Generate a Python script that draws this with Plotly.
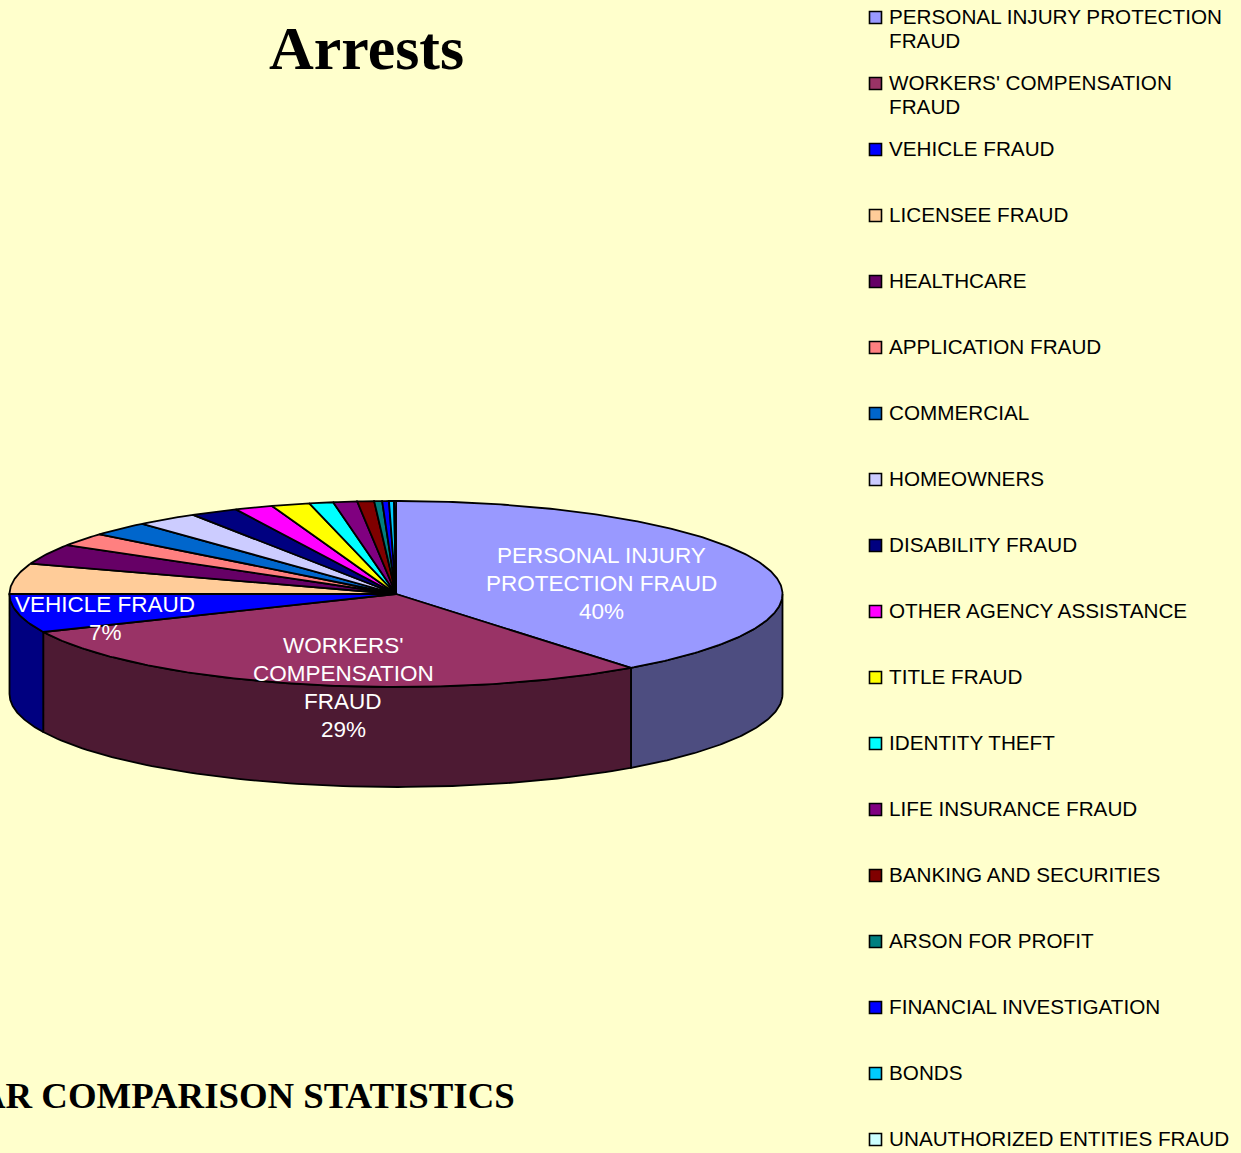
import numpy as np
import plotly.graph_objects as go

categories = ["PERSONAL INJURY PROTECTION<br>FRAUD", "WORKERS' COMPENSATION<br>FRAUD", "VEHICLE FRAUD",
              "LICENSEE FRAUD", "HEALTHCARE", "APPLICATION FRAUD", "COMMERCIAL", "HOMEOWNERS",
              "DISABILITY FRAUD", "OTHER AGENCY ASSISTANCE", "TITLE FRAUD", "IDENTITY THEFT",
              "LIFE INSURANCE FRAUD", "BANKING AND SECURITIES", "ARSON FOR PROFIT",
              "FINANCIAL INVESTIGATION", "BONDS", "UNAUTHORIZED ENTITIES FRAUD"]
values = [39.6, 28.7, 6.7, 5.3, 3.5, 2.3, 2.5, 2.6, 2.0, 1.6, 1.6, 1.0, 1.0, 0.7, 0.33, 0.28, 0.21, 0.08]
colors = ["#9999ff", "#993366", "#0000ff", "#ffcc99", "#660066", "#ff8080", "#0066cc", "#ccccff",
          "#000080", "#ff00ff", "#ffff00", "#00ffff", "#800080", "#800000", "#008080", "#0000ff",
          "#00ccff", "#ccffff"]
wall_colors = ["#4d4d80", "#4d1a33", "#000080"]
slice_labels = ["PERSONAL INJURY<br>PROTECTION FRAUD<br>40%", "WORKERS'<br>COMPENSATION<br>FRAUD<br>29%",
                "VEHICLE FRAUD<br>7%"]

# layout geometry in page pixels
W, H = 1241, 1153
CX, CY, RX, RY, DEPTH = 396, 594, 386.5, 93, 100
LABEL_POS = [(601, 583), (343, 687), (105, 618)]
LEGEND_X, LEGEND_Y0, LEGEND_STEP, LINE_STEP = 875.5, 17.5, 66, 24
LEGEND_FONT = 20.7
BG = "#ffffcc"

v = np.array(values)
edges = np.concatenate([[0], np.cumsum(v) / v.sum() * 2 * np.pi])


def rim(a, dy=0.0):
    return CX + RX * np.sin(a), CY - RY * np.cos(a) + dy


fig = go.Figure()
common = dict(mode="lines", fill="toself", line=dict(color="black", width=1.8), hoverinfo="skip", showlegend=False)

# side walls of the front half
for i in range(len(values)):
    a0, a1 = max(edges[i], np.pi / 2), min(edges[i + 1], 3 * np.pi / 2)
    if a1 <= a0:
        continue
    arc = np.linspace(a0, a1, 90)
    x, y = rim(arc)
    xb, yb = rim(arc[::-1], DEPTH)
    fig.add_trace(go.Scatter(x=np.r_[x, xb, x[0]], y=np.r_[y, yb, y[0]], fillcolor=wall_colors[i], **common))

# top faces
for i, c in enumerate(colors):
    arc = np.linspace(edges[i], edges[i + 1], max(3, int(values[i] * 6)))
    x, y = rim(arc)
    fig.add_trace(go.Scatter(x=np.r_[CX, x, CX], y=np.r_[CY, y, CY], fillcolor=c, **common))

# key swatches
key_y = [LEGEND_Y0 + LEGEND_STEP * i for i in range(len(categories))]
fig.add_trace(go.Scatter(x=[LEGEND_X] * len(categories), y=key_y, mode="markers", hoverinfo="skip", showlegend=False,
                         marker=dict(symbol="square", size=12, color=colors, line=dict(color="black", width=1.6))))

ann = []
for name, y0 in zip(categories, key_y):
    for j, line in enumerate(name.split("<br>")):
        ann.append(dict(x=LEGEND_X + 11, y=y0 - 1.5 + j * LINE_STEP, text=line, xanchor="left", yanchor="middle",
                        showarrow=False, font=dict(family="Liberation Sans", size=LEGEND_FONT, color="black")))
for text, (x, y) in zip(slice_labels, LABEL_POS):
    n = text.count("<br>") + 1
    for j, line in enumerate(text.split("<br>")):
        ann.append(dict(x=x, y=y + (j - (n - 1) / 2) * 28, text=line, xanchor="center", yanchor="middle",
                        showarrow=False, font=dict(family="Liberation Sans", size=22.5, color="white")))
ann.append(dict(x=366, y=48, text="<b>Arrests</b>", xanchor="center", yanchor="middle", showarrow=False,
                font=dict(family="Liberation Serif", size=62, color="black")))
ann.append(dict(x=517, y=1095, text="<b>AR COMPARISON STATISTICS</b>", xanchor="right", yanchor="middle", showarrow=False,
                font=dict(family="Liberation Serif", size=36.8, color="black")))

fig.update_layout(
    width=W, height=H, margin=dict(l=0, r=0, t=0, b=0), autosize=False,
    paper_bgcolor=BG, plot_bgcolor=BG, showlegend=False, annotations=ann,
    xaxis=dict(range=[0, W], visible=False, fixedrange=True),
    yaxis=dict(range=[H, 0], visible=False, fixedrange=True),
)
fig.write_html("out.html", config={"displayModeBar": False}, include_plotlyjs=True,
               post_script="document.body.style.margin='0';document.body.style.background='#ffffcc';")
